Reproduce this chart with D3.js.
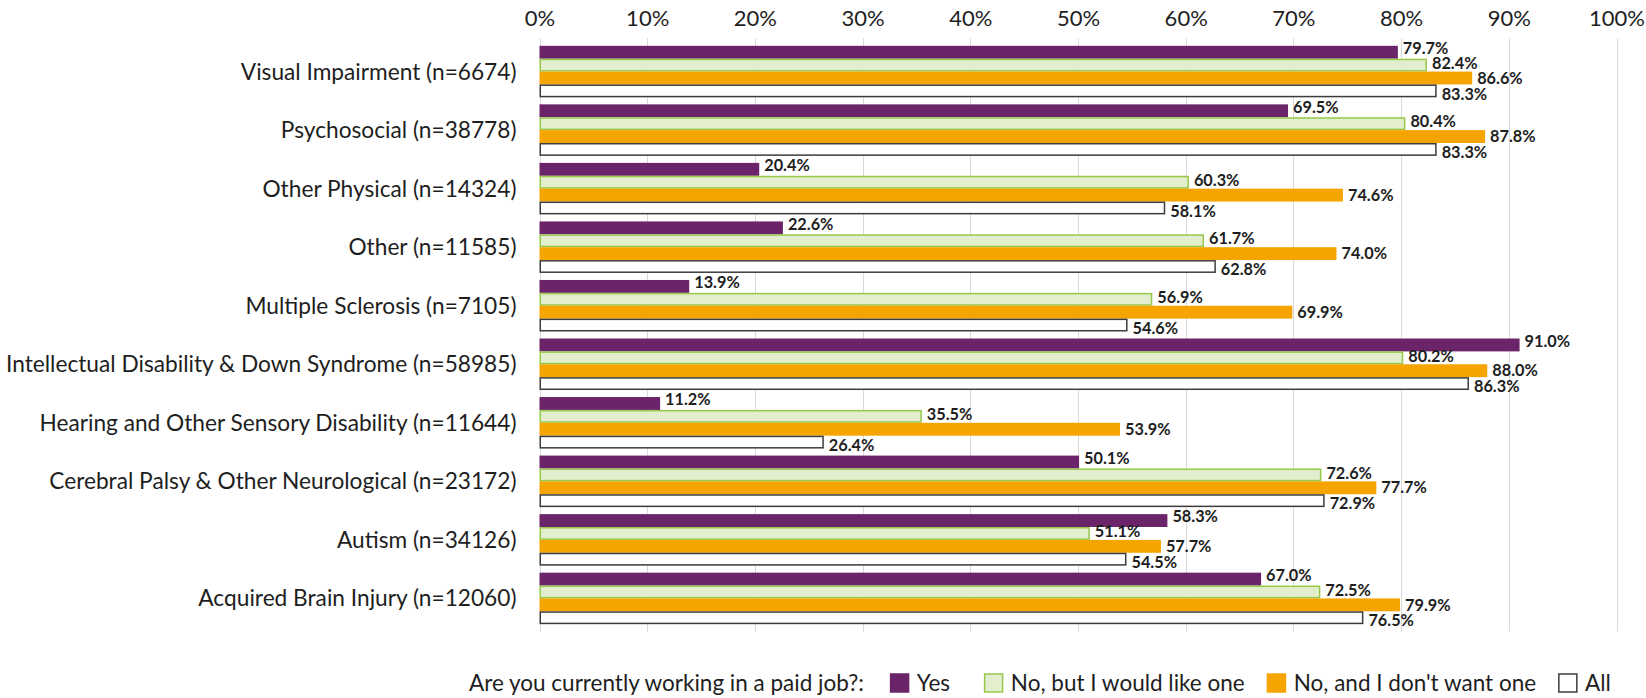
<!DOCTYPE html>
<html>
<head>
<meta charset="utf-8">
<script src="https://cdn.jsdelivr.net/npm/d3@7/dist/d3.min.js"></script>
<style>
  html, body { margin: 0; padding: 0; background: #fff; }
  svg { display: block; }
  text { font-family: Lato, "Open Sans", "Noto Sans", sans-serif; fill: #1e1e1e; }
</style>
</head>
<body>
<svg id="chart" width="1646" height="698"></svg>
<script>
// Disability groups, top to bottom
const categories = [
  "Visual Impairment (n=6674)",
  "Psychosocial (n=38778)",
  "Other Physical (n=14324)",
  "Other (n=11585)",
  "Multiple Sclerosis (n=7105)",
  "Intellectual Disability & Down Syndrome (n=58985)",
  "Hearing and Other Sensory Disability (n=11644)",
  "Cerebral Palsy & Other Neurological (n=23172)",
  "Autism (n=34126)",
  "Acquired Brain Injury (n=12060)"
];

// Answer series (percent of respondents)
const seriesNames = ["Yes", "No, but I would like one", "No, and I don't want one", "All"];
const yesValues       = [79.7, 69.5, 20.4, 22.6, 13.9, 91.0, 11.2, 50.1, 58.3, 67.0];
const wouldLikeValues = [82.4, 80.4, 60.3, 61.7, 56.9, 80.2, 35.5, 72.6, 51.1, 72.5];
const dontWantValues  = [86.6, 87.8, 74.6, 74.0, 69.9, 88.0, 53.9, 77.7, 57.7, 79.9];
const allValues       = [83.3, 83.3, 58.1, 62.8, 54.6, 86.3, 26.4, 72.9, 54.5, 76.5];
const seriesValues = [yesValues, wouldLikeValues, dontWantValues, allValues];

const xTicks = [0, 10, 20, 30, 40, 50, 60, 70, 80, 90, 100];
const legendTitle = "Are you currently working in a paid job?:";

// Styling per series
const fills   = ["#6b246a", "#e2eecd", "#f6a400", "#ffffff"];
const strokes = [null, "#96c94a", null, "#3c3c3c"];
const labelShift = [-4, -2, 0, 3];

const svg = d3.select("#chart");
const plot = { left: 539.5, right: 1616.5, top: 38.5, bottom: 631.5 };

const x = d3.scaleLinear().domain([0, 100]).range([plot.left, plot.right]);
const y = d3.scaleBand().domain(categories).range([plot.top, plot.bottom])
  .paddingInner(0.12).paddingOuter(0.125);
const inner = d3.scaleBand().domain(d3.range(seriesNames.length)).range([0, y.bandwidth()]);

// Gridlines
svg.append("g").selectAll("line").data(xTicks).join("line")
  .attr("x1", d => Math.round(x(d)) + 0.5).attr("x2", d => Math.round(x(d)) + 0.5)
  .attr("y1", plot.top).attr("y2", plot.bottom)
  .attr("stroke", "#d9d9d9").attr("stroke-width", 1);

// Top axis labels
const axis = svg.append("g").attr("transform", `translate(0,${plot.top - 8})`)
  .call(d3.axisTop(x).tickValues(xTicks).tickFormat(d => d + "%").tickSize(0).tickPadding(0));
axis.select(".domain").remove();
axis.selectAll("text").attr("font-size", 22).attr("font-family", null).attr("fill", "#1e1e1e")
  .attr("y", -12).attr("dy", "0.35em");

// Category labels
svg.append("g").selectAll("text").data(categories).join("text")
  .attr("x", plot.left - 23)
  .attr("y", d => y(d) + y.bandwidth() / 2)
  .attr("dy", "0.35em")
  .attr("text-anchor", "end")
  .attr("font-size", 22.7)
  .text(d => d);

// Bars
const rows = categories.map((c, ci) => ({ c, vals: seriesValues.map((s, si) => ({ si, v: s[ci] })) }));
const group = svg.append("g").selectAll("g").data(rows).join("g")
  .attr("transform", d => `translate(0,${y(d.c)})`);

group.selectAll("rect").data(d => d.vals).join("rect")
  .attr("x", d => x(0) + (strokes[d.si] ? 0.75 : 0))
  .attr("y", d => inner(d.si) + (strokes[d.si] ? 0.75 : 0))
  .attr("width", d => x(d.v) - x(0) - (strokes[d.si] ? 1.5 : 0))
  .attr("height", d => inner.bandwidth() - (strokes[d.si] ? 1.5 : 0))
  .attr("fill", d => fills[d.si])
  .attr("stroke", d => strokes[d.si] || "none")
  .attr("stroke-width", 1.5);

group.selectAll("text").data(d => d.vals).join("text")
  .attr("x", d => x(d.v) + 5)
  .attr("y", d => inner(d.si) + inner.bandwidth() / 2 + labelShift[d.si])
  .attr("dy", "0.35em")
  .attr("font-size", 16.3)
  .attr("font-weight", "bold")
  .text(d => d.v.toFixed(1) + "%");

// Legend: each entry takes at least a minimum slot width
const legend = svg.append("g").attr("transform", "translate(469,683)");
const title = legend.append("text").attr("x", 0).attr("y", 0).attr("dy", "0.35em")
  .attr("font-size", 22.5).text(legendTitle);
let cursor = title.node().getComputedTextLength() + 26;
const swatch = 19.5, swatchGap = 27, minSlot = 94;
seriesNames.forEach((name, i) => {
  const inset = strokes[i] ? 0.75 : 0;
  legend.append("rect")
    .attr("x", cursor + inset).attr("y", -swatch / 2 + inset)
    .attr("width", swatch - 2 * inset).attr("height", swatch - 2 * inset)
    .attr("fill", fills[i]).attr("stroke", strokes[i] || "none").attr("stroke-width", 1.5);
  const t = legend.append("text").attr("x", cursor + swatchGap).attr("y", 0).attr("dy", "0.35em")
    .attr("font-size", 22.5).text(name);
  cursor += Math.max(swatchGap + t.node().getComputedTextLength() + 22, minSlot);
});
</script>
</body>
</html>
